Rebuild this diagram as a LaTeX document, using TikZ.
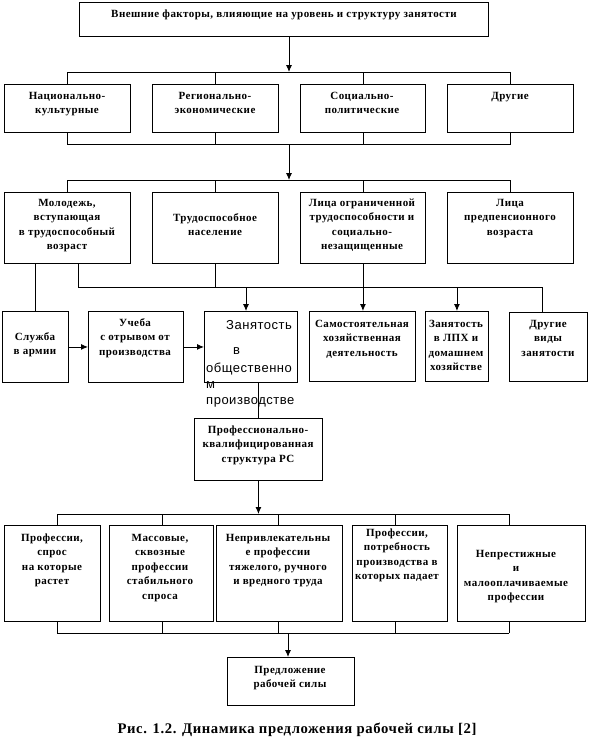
\documentclass[tikz,border=0pt]{standalone}
\usepackage{fontspec}
\setmainfont{Liberation Serif}[LetterSpace=4]
\newfontfamily\zsans{Liberation Sans}[LetterSpace=4]
\usetikzlibrary{arrows.meta}
\newcommand\bxfont{\fontsize{11}{14.5}\selectfont\bfseries}
\newcommand\capfont{\fontsize{14.7}{17}\selectfont\bfseries}
\newcommand\zfont{\fontsize{13}{16}\selectfont\zsans}
\begin{document}
\begin{tikzpicture}[x=1pt,y=-1pt,
  line/.style={draw, line width=0.9pt},
  arr/.style={line, -{Latex[length=7pt,width=6pt]}},
  box/.style={draw, line width=0.9pt, anchor=north west, inner sep=0pt},
  txt/.style={font=\bxfont, align=center, inner sep=0pt, anchor=north, yshift=10.15pt}]
\useasboundingbox (0,0) rectangle (589,748);
% boxes
\node[box, minimum width=409pt, minimum height=34pt] (top) at (79,2) {};
\node[box, minimum width=126pt, minimum height=48pt] (r2a) at (4,84) {};
\node[box, minimum width=126pt, minimum height=48pt] (r2b) at (152,84) {};
\node[box, minimum width=125pt, minimum height=48pt] (r2c) at (300,84) {};
\node[box, minimum width=126pt, minimum height=48pt] (r2d) at (447,84) {};
\node[box, minimum width=126pt, minimum height=71pt] (r3a) at (4,192) {};
\node[box, minimum width=126pt, minimum height=71pt] (r3b) at (152,192) {};
\node[box, minimum width=125pt, minimum height=71pt] (r3c) at (300,192) {};
\node[box, minimum width=126pt, minimum height=71pt] (r3d) at (447,192) {};
\node[box, minimum width=66pt, minimum height=71pt] (r4a) at (2,311) {};
\node[box, minimum width=95pt, minimum height=71pt] (r4b) at (88,311) {};
\node[box, minimum width=93pt, minimum height=71pt] (r4c) at (204,311) {};
\node[box, minimum width=106pt, minimum height=70pt] (r4d) at (309,311) {};
\node[box, minimum width=63pt, minimum height=70pt] (r4e) at (425,311) {};
\node[box, minimum width=78pt, minimum height=69pt] (r4f) at (509,312) {};
\node[box, minimum width=128pt, minimum height=62pt] (prof) at (194,418) {};
\node[box, minimum width=96pt, minimum height=96pt] (r5a) at (4,525) {};
\node[box, minimum width=104pt, minimum height=96pt] (r5b) at (109,525) {};
\node[box, minimum width=126pt, minimum height=96pt] (r5c) at (216,525) {};
\node[box, minimum width=95pt, minimum height=96pt] (r5d) at (352,525) {};
\node[box, minimum width=128pt, minimum height=96pt] (r5e) at (457,525) {};
\node[box, minimum width=127pt, minimum height=48pt] (pred) at (227,657) {};
% texts
\node[txt] (ttop) at (284,17) {\strut Внешние факторы, влияющие на уровень и структуру занятости};
\node[txt] (t2a) at (67,99) {\strut Национально-\\культурные};
\node[txt] (t2b) at (215,99) {\strut Регионально-\\экономические};
\node[txt] (t2c) at (362,99) {\strut Социально-\\политические};
\node[txt] (t2d) at (510,99) {\strut Другие};
\node[txt] (t3a) at (67,206) {\strut Молодежь,\\вступающая\\в трудоспособный\\возраст};
\node[txt] (t3b) at (215,221) {\strut Трудоспособное\\население};
\node[txt] (t3c) at (362,206) {\strut Лица ограниченной\\трудоспособности и\\социально-\\незащищенные};
\node[txt] (t3d) at (510,206) {\strut Лица\\предпенсионного\\возраста};
\node[txt] (t4a) at (35,340) {\strut Служба\\в армии};
\node[txt] (t4b) at (135,326) {\strut Учеба\\с отрывом от\\производства};
\node[font=\zfont, align=left, inner sep=0pt, anchor=north west, yshift=11.2pt] (t4c) at (206,329)
  {\strut\hspace*{20pt}Занятость\\[9pt]\hspace*{27pt}в\\[2pt]общественно\\м\\производстве};
\node[txt] (t4d) at (362,327) {\strut Самостоятельная\\хозяйственная\\деятельность};
\node[txt] (t4e) at (456,327) {\strut Занятость\\в ЛПХ и\\домашнем\\хозяйстве};
\node[txt] (t4f) at (548,327) {\strut Другие\\виды\\занятости};
\node[txt] (tprof) at (258,433) {\strut Профессионально-\\квалифицированная\\структура РС};
\node[txt] (t5a) at (52,541) {\strut Профессии,\\спрос\\на которые\\растет};
\node[txt] (t5b) at (160,541) {\strut Массовые,\\сквозные\\профессии\\стабильного\\спроса};
\node[txt] (t5c) at (278,541) {\strut Непривлекательны\\е профессии\\тяжелого, ручного\\и вредного труда};
\node[txt] (t5d) at (397,536) {\strut Профессии,\\потребность\\производства в\\которых падает};
\node[txt] (t5e) at (516,557) {\strut Непрестижные\\и\\малооплачиваемые\\профессии};
\node[txt] (tpred) at (290,673) {\strut Предложение\\рабочей силы};
\node[font=\capfont, inner sep=0pt, anchor=base] (cap) at (297,733) {Рис. 1.2. Динамика предложения рабочей силы [2]};
% connectors row 1-2
\coordinate (j1) at (289,72);
\draw[arr] (top.south -| j1) -- (j1);
\draw[line] (r2a.north) -- (r2a.north |- j1) -- (r2d.north |- j1) -- (r2d.north);
\draw[line] (r2b.north) -- (r2b.north |- j1);
\draw[line] (r2c.north) -- (r2c.north |- j1);
% row 2-3
\coordinate (j2) at (289,144);
\coordinate (j3) at (289,180);
\draw[line] (r2a.south) -- (r2a.south |- j2) -- (r2d.south |- j2) -- (r2d.south);
\draw[line] (r2b.south) -- (r2b.south |- j2);
\draw[line] (r2c.south) -- (r2c.south |- j2);
\draw[arr] (j2) -- (j3);
\draw[line] (r3a.north) -- (r3a.north |- j3) -- (r3d.north |- j3) -- (r3d.north);
\draw[line] (r3b.north) -- (r3b.north |- j3);
\draw[line] (r3c.north) -- (r3c.north |- j3);
% row 3-4
\coordinate (c1) at (78,287);
\coordinate (c2) at (542,287);
\coordinate (c3) at (246,287);
\draw[line] (r4a.north) -- (r4a.north |- r3a.south);
\draw[line] (c1 |- r3a.south) -- (c1) -- (c2) -- (c2 |- r4f.north);
\draw[line] (r3b.south) -- (r3b.south |- c1);
\draw[arr] (r3c.south) -- (r3c.south |- r4d.north);
\draw[arr] (c3) -- (c3 |- r4c.north);
\draw[arr] (r4e.north |- c1) -- (r4e.north);
\draw[arr] (r4a.east) -- (r4b.west);
\draw[arr] (r4b.east) -- (r4c.west);
\draw[line] (prof.north |- r4c.south) -- (prof.north);
% row prof-5
\coordinate (p1) at (57,514);
\coordinate (p2) at (162,514);
\coordinate (p3) at (278,514);
\coordinate (p4) at (395,514);
\coordinate (p5) at (509,514);
\coordinate (q1) at (57,633);
\coordinate (q2) at (162,633);
\coordinate (q3) at (278,633);
\coordinate (q4) at (395,633);
\coordinate (q5) at (509,633);
\coordinate (q0) at (288,633);
\draw[arr] (prof.south) -- (prof.south |- p1);
\draw[line] (p1) -- (p5);
\draw[line] (p1) -- (p1 |- r5a.north);
\draw[line] (p2) -- (p2 |- r5b.north);
\draw[line] (p3) -- (p3 |- r5c.north);
\draw[line] (p4) -- (p4 |- r5d.north);
\draw[line] (p5) -- (p5 |- r5e.north);
\draw[line] (q1) -- (q5);
\draw[line] (q1) -- (q1 |- r5a.south);
\draw[line] (q2) -- (q2 |- r5b.south);
\draw[line] (q3) -- (q3 |- r5c.south);
\draw[line] (q4) -- (q4 |- r5d.south);
\draw[line] (q5) -- (q5 |- r5e.south);
\draw[arr] (q0) -- (q0 |- pred.north);
\end{tikzpicture}
\end{document}
